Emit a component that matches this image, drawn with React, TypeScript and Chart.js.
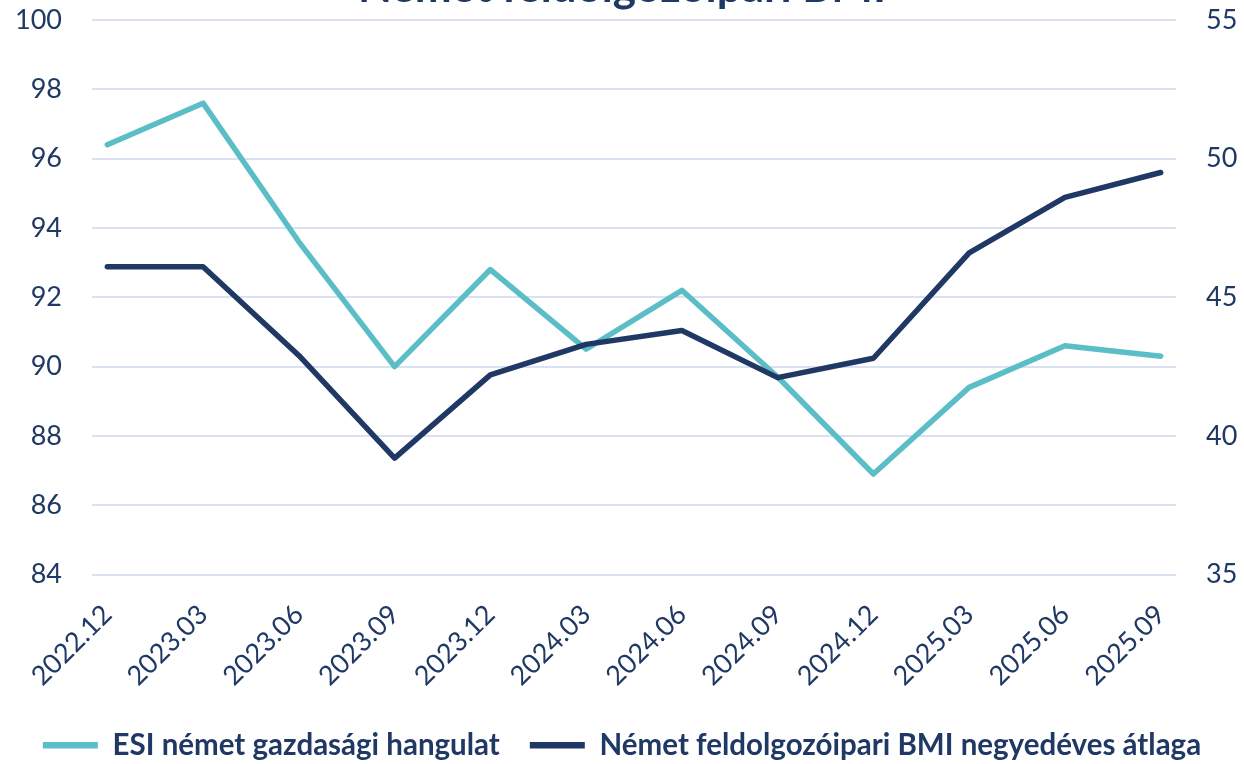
import React, { useEffect, useRef } from "react";
import { Chart, registerables } from "chart.js";

Chart.register(...registerables);

const categories = [
  "2022.12", "2023.03", "2023.06", "2023.09", "2023.12", "2024.03",
  "2024.06", "2024.09", "2024.12", "2025.03", "2025.06", "2025.09",
];
const esiValues = [96.4, 97.6, 93.6, 90.0, 92.8, 90.5, 92.2, 89.7, 86.9, 89.4, 90.6, 90.3];
const pmiValues = [46.1, 46.1, 42.9, 39.2, 42.2, 43.3, 43.8, 42.1, 42.8, 46.6, 48.6, 49.5];
const esiLabel = "ESI német gazdasági hangulat";
const pmiLabel = "Német feldolgozóipari BMI negyedéves átlaga";
const titleText = "Német feldolgozóipari BMI";

const NAVY = "#1F3864";
const TEAL = "#5BBEC6";
const GRID = "#D9E1F3";
const FONT = "Lato";

export default function App() {
  const ref = useRef<HTMLCanvasElement>(null);

  useEffect(() => {
    if (!ref.current) return;
    const chart = new Chart(ref.current, {
      type: "line",
      data: {
        datasets: [
          {
            label: esiLabel,
            data: esiValues.map((v, i) => ({ x: i, y: v })),
            borderColor: TEAL,
            backgroundColor: TEAL,
            borderWidth: 5.5,
            borderCapStyle: "round",
            borderJoinStyle: "round",
            pointRadius: 0,
            yAxisID: "y",
            order: 1,
          },
          {
            label: pmiLabel,
            data: pmiValues.map((v, i) => ({ x: i, y: v })),
            borderColor: NAVY,
            backgroundColor: NAVY,
            borderWidth: 5.5,
            borderCapStyle: "round",
            borderJoinStyle: "round",
            pointRadius: 0,
            yAxisID: "y1",
            order: 0,
          },
        ],
      },
      options: {
        responsive: false,
        animation: false,
        devicePixelRatio: 1,
        layout: { padding: 0 },
        plugins: {
          title: {
            display: true,
            text: titleText,
            color: NAVY,
            font: { family: FONT, size: 44, weight: "bold" },
            padding: { top: -3, bottom: 6.2 },
          },
          legend: {
            position: "bottom",
            labels: {
              usePointStyle: true,
              pointStyle: "line",
              pointStyleWidth: 55,
              color: NAVY,
              padding: 30,
              font: { family: FONT, size: 29.5, weight: "bold" },
              sort: (a: any, b: any) => a.datasetIndex - b.datasetIndex,
              generateLabels: (c: any) =>
                (Chart.defaults.plugins.legend.labels as any)
                  .generateLabels(c)
                  .map((l: any) => ({ ...l, lineWidth: 6.5 })),
            },
          },
          tooltip: { enabled: false },
        },
        scales: {
          x: {
            type: "linear",
            min: -0.16,
            max: 11.16,
            afterBuildTicks: (scale: any) => {
              scale.ticks = categories.map((_, i) => ({ value: i }));
            },
            afterFit: (scale: any) => {
              scale.height = 126;
            },
            grid: { display: false },
            border: { display: false },
            ticks: {
              autoSkip: false,
              minRotation: 45,
              maxRotation: 45,
              padding: 16,
              color: NAVY,
              font: { family: FONT, size: 27 },
              callback: (v: any) => categories[v] ?? "",
            },
          },
          y: {
            position: "left",
            min: 84,
            max: 100,
            afterFit: (scale: any) => {
              scale.width = 92;
            },
            grid: { color: GRID, lineWidth: 2, drawTicks: false },
            border: { display: false },
            ticks: {
              stepSize: 2,
              padding: 30,
              color: NAVY,
              font: { family: FONT, size: 27 },
            },
          },
          y1: {
            position: "right",
            min: 35,
            max: 55,
            afterFit: (scale: any) => {
              scale.width = 68;
            },
            grid: { drawOnChartArea: false, drawTicks: false },
            border: { display: false },
            ticks: {
              stepSize: 5,
              padding: 30,
              color: NAVY,
              font: { family: FONT, size: 27 },
            },
          },
        },
      },
    });
    return () => chart.destroy();
  }, []);

  return (
    <div
      style={{
        position: "fixed",
        left: 0,
        top: 0,
        width: 1244,
        height: 764,
        overflow: "hidden",
        background: "#ffffff",
      }}
    >
      <canvas
        ref={ref}
        width={1244}
        height={806}
        style={{ position: "absolute", left: 0, top: -36, width: 1244, height: 806 }}
      />
    </div>
  );
}
